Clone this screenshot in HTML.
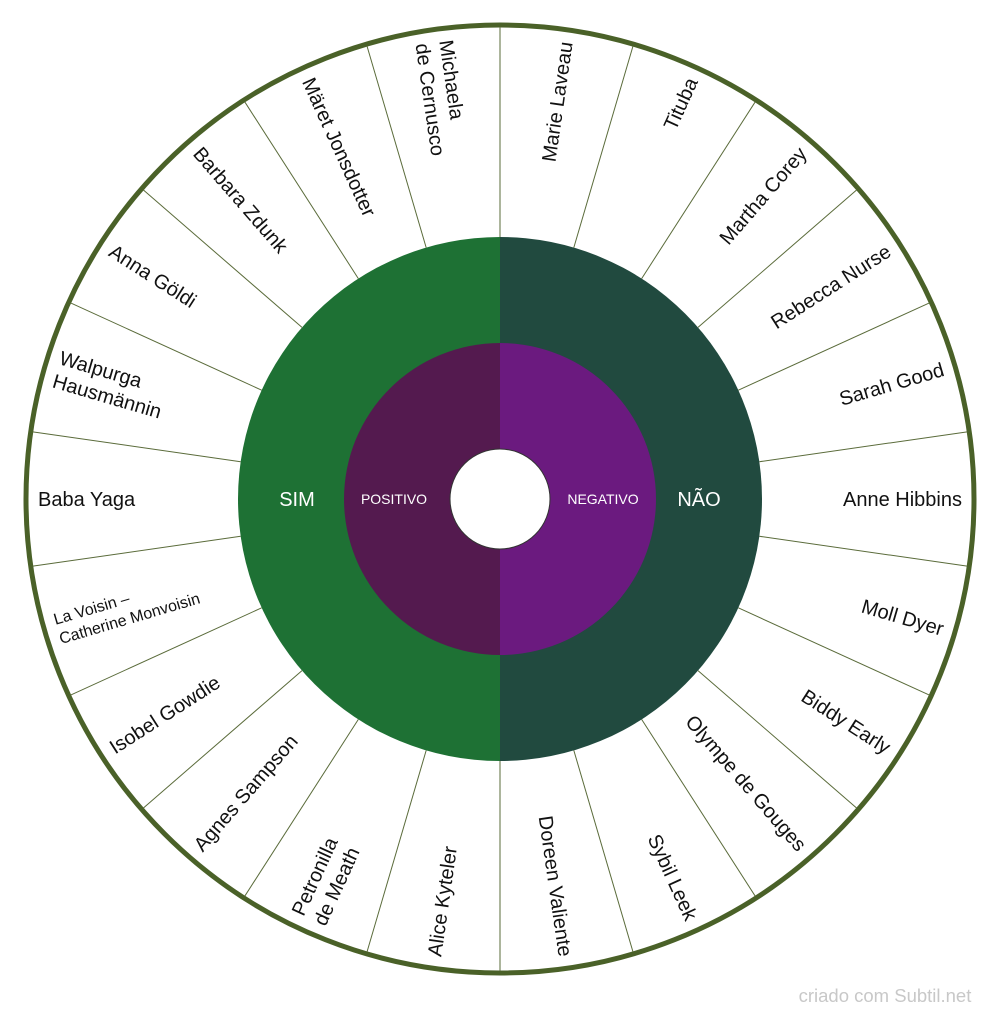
<!DOCTYPE html>
<html><head><meta charset="utf-8"><style>
html,body{margin:0;padding:0;background:#fff;}
svg{display:block;}
text{font-family:"Liberation Sans",sans-serif;}
</style></head><body>
<svg width="1000" height="1016" viewBox="0 0 1000 1016" xmlns="http://www.w3.org/2000/svg">
<circle cx="500" cy="499" r="474" fill="#fff" stroke="#4a6128" stroke-width="5"/>
<g id="lines" stroke="#5a6b3a" stroke-width="1"></g>
<path d="M500 237 A262 262 0 0 0 500 761 Z" fill="#1e7134"/>
<path d="M500 237 A262 262 0 0 1 500 761 Z" fill="#214a3f"/>
<path d="M500 343 A156 156 0 0 0 500 655 Z" fill="#541a4f"/>
<path d="M500 343 A156 156 0 0 1 500 655 Z" fill="#6b1a7f"/>
<circle cx="500" cy="499" r="50" fill="#fff" stroke="#333" stroke-width="1"/>
<text x="297" y="506" font-size="20" fill="#fff" text-anchor="middle">SIM</text>
<text x="699" y="506" font-size="20" fill="#fff" text-anchor="middle">NÃO</text>
<text x="394" y="504" font-size="14" fill="#fff" text-anchor="middle">POSITIVO</text>
<text x="603" y="504" font-size="14" fill="#fff" text-anchor="middle">NEGATIVO</text>
<g id="labels" fill="#111" font-size="20"></g>
<text x="885" y="1002" font-size="18.5" fill="#c8c8c8" text-anchor="middle">criado com Subtil.net</text>
</svg>
<script>
var ns="http://www.w3.org/2000/svg",cx=500,cy=499,step=180/11;
var lg=document.getElementById("lines");
for(var k=0;k<22;k++){var t=k*step*Math.PI/180;var l=document.createElementNS(ns,"line");
l.setAttribute("x1",cx+262*Math.sin(t));l.setAttribute("y1",cy-262*Math.cos(t));
l.setAttribute("x2",cx+472*Math.sin(t));l.setAttribute("y2",cy-472*Math.cos(t));lg.appendChild(l);}
var right=[["Marie Laveau"],["Tituba"],["Martha Corey"],["Rebecca Nurse"],["Sarah Good"],["Anne Hibbins"],["Moll Dyer"],["Biddy Early"],["Olympe de Gouges"],["Sybil Leek"],["Doreen Valiente"]];
var left=[["Alice Kyteler"],["Petronilla","de Meath"],["Agnes Sampson"],["Isobel Gowdie"],["La Voisin –","Catherine Monvoisin"],["Baba Yaga"],["Walpurga","Hausmännin"],["Anna Göldi"],["Barbara Zdunk"],["Märet Jonsdotter"],["Michaela","de Cernusco"]];
var g=document.getElementById("labels");
function add(lines,th,rot,anchor){var r=462,t=th*Math.PI/180;var x=cx+r*Math.sin(t),y=cy-r*Math.cos(t);
var small=lines[0].indexOf("La Voisin")==0;var fs=small?16:20,lh=small?20:24;
var n=lines.length;for(var i=0;i<n;i++){var e=document.createElementNS(ns,"text");
e.setAttribute("x",x);e.setAttribute("y",y+(i-(n-1)/2)*lh+fs*0.35);e.setAttribute("font-size",fs);
e.setAttribute("text-anchor",anchor);e.setAttribute("transform","rotate("+rot+" "+x+" "+y+")");
e.textContent=lines[i];g.appendChild(e);}}
for(var k=0;k<11;k++){var th=step/2+k*step;add(right[k],th,th-90,"end");}
for(var k=0;k<11;k++){var th=180+step/2+k*step;add(left[k],th,th-270,"start");}
</script>
</body></html>
